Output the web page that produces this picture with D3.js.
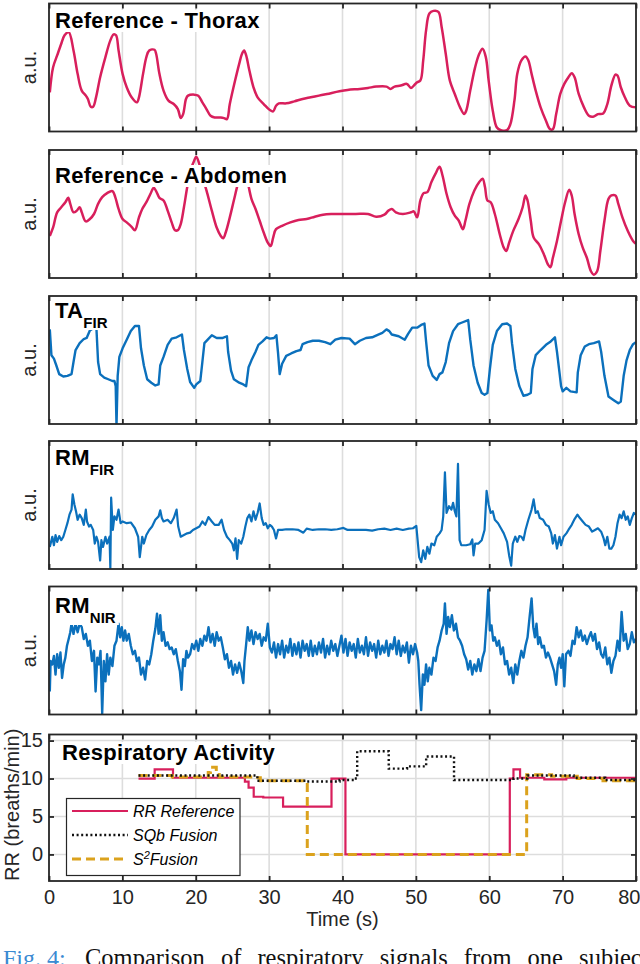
<!DOCTYPE html>
<html><head><meta charset="utf-8">
<script src="https://cdn.jsdelivr.net/npm/d3@7"></script>
<style>body{margin:0;background:#fff}svg{display:block}</style>
</head><body>
<svg id="c" width="640" height="964"></svg>
<script>
// ---------- DATA ----------
const xTicks = [0,10,20,30,40,50,60,70,80];
const gridX = [10,20,30,40,50,60,70];
const rrTicks = [0,5,10,15];
const panelTitles = ["Reference - Thorax","Reference - Abdomen","TA","RM","RM"];
const panelSubs = [null,null,"FIR","FIR","NIR"];
const legendLabels = ["RR Reference","SQb Fusion","S","Fusion"];

// [time (s), a.u.]
const thorax = [[0.11,117],[0.56,192],[1.11,227],[1.67,262],[2.12,287],[2.68,297],[3.34,242],[3.90,172],[4.46,122],[5.02,107],[5.30,97],[5.69,74],[6.02,74],[6.41,102],[6.97,162],[7.69,222],[8.36,272],[8.81,290],[9.14,287],[9.48,242],[10.03,172],[10.59,132],[11.26,102],[11.98,87],[12.26,102],[12.82,172],[13.27,222],[13.66,242],[14.38,244],[14.60,232],[15.05,172],[15.61,122],[16.28,92],[17.00,82],[17.56,67],[17.95,40],[18.28,52],[18.67,97],[18.95,107],[19.79,110],[20.35,107],[20.90,87],[21.46,67],[22.02,47],[22.58,42],[23.41,42],[23.86,40],[24.25,37],[24.64,82],[25.36,152],[25.92,202],[26.31,232],[26.59,242],[26.87,227],[27.31,182],[27.87,132],[28.43,102],[29.26,82],[30.10,64],[30.55,60],[30.94,77],[31.33,84],[32.33,84],[33.44,90],[34.56,97],[35.67,102],[36.79,107],[37.90,112],[39.58,120],[40.69,124],[42.36,127],[43.48,130],[44.59,134],[45.99,134],[46.54,127],[47.10,134],[47.94,137],[48.77,142],[49.33,130],[49.72,137],[50.17,147],[50.61,152],[51.00,212],[51.39,302],[51.84,352],[52.40,360],[53.07,357],[53.51,312],[54.07,232],[54.63,152],[55.30,112],[56.02,72],[56.58,52],[56.86,62],[57.41,122],[58.08,192],[58.64,232],[59.09,247],[59.53,222],[59.92,152],[60.48,62],[61.04,12],[61.59,4],[62.43,4],[62.88,22],[63.43,92],[63.82,172],[64.38,212],[64.94,224],[65.33,212],[65.77,172],[66.33,122],[67.00,72],[67.73,32],[68.28,7],[68.67,7],[69.12,52],[69.68,112],[70.23,142],[70.79,162],[71.24,174],[71.63,162],[72.19,112],[72.91,72],[73.58,47],[74.14,44],[74.81,52],[75.53,54],[76.09,82],[76.64,137],[77.20,170],[77.48,167],[77.93,132],[78.48,102],[79.15,77],[79.99,72]];

const abdomen = [[0.11,125],[0.56,150],[1.11,195],[1.67,210],[2.23,225],[2.62,238],[2.90,220],[3.34,195],[3.79,200],[4.18,210],[4.46,195],[5.02,168],[5.57,175],[6.13,190],[6.69,220],[7.25,240],[7.92,252],[8.64,258],[9.03,240],[9.48,205],[10.03,175],[10.59,165],[11.26,152],[11.71,142],[12.26,180],[12.71,205],[13.27,225],[13.83,250],[14.27,268],[14.60,258],[15.05,238],[15.61,230],[16.17,200],[16.72,165],[17.17,142],[17.56,142],[17.95,160],[18.39,210],[18.84,270],[19.29,320],[19.73,345],[20.07,360],[20.46,340],[20.90,300],[21.46,260],[22.19,200],[22.85,150],[23.41,125],[23.75,118],[24.08,135],[24.64,180],[25.19,230],[25.75,280],[26.20,310],[26.64,320],[27.03,290],[27.59,235],[28.15,205],[28.71,170],[29.26,135],[29.82,105],[30.21,95],[30.55,120],[30.94,145],[31.77,155],[32.89,165],[34.00,172],[35.12,175],[36.23,182],[37.35,188],[38.46,190],[40.13,190],[41.81,190],[43.48,190],[44.59,182],[45.71,188],[46.26,200],[46.71,205],[47.27,195],[48.22,190],[49.33,195],[49.72,198],[50.17,180],[50.61,230],[51.06,252],[51.56,255],[52.12,285],[52.68,310],[53.23,330],[53.62,305],[54.18,250],[54.74,210],[55.30,185],[55.85,170],[56.41,145],[56.75,170],[57.30,220],[57.97,260],[58.64,285],[59.09,295],[59.42,270],[59.75,230],[60.20,225],[60.76,190],[61.43,130],[61.98,90],[62.32,80],[62.71,105],[63.27,140],[63.99,175],[64.55,210],[64.94,245],[65.22,230],[65.66,170],[66.05,120],[66.78,100],[67.45,70],[68.00,40],[68.34,32],[68.67,60],[69.23,110],[69.79,170],[70.34,225],[70.90,262],[71.24,245],[71.63,190],[72.19,130],[72.74,90],[73.30,60],[73.86,20],[74.25,10],[74.70,20],[75.14,80],[75.70,170],[76.25,235],[76.64,245],[77.20,245],[77.59,220],[78.15,180],[78.87,140],[79.60,110],[79.99,102]];

const taFir = [[0.11,275],[0.33,200],[0.67,190],[1.00,170],[1.39,145],[1.95,138],[2.51,140],[3.07,145],[3.34,180],[3.62,215],[4.18,235],[4.74,247],[5.13,250],[5.57,272],[6.13,280],[6.47,275],[6.69,180],[6.97,145],[7.53,135],[8.08,130],[8.64,125],[8.92,125],[9.09,110],[9.20,-5],[9.36,140],[9.59,195],[10.03,220],[10.59,245],[11.15,270],[11.71,285],[12.26,285],[12.54,220],[12.93,170],[13.38,130],[13.94,120],[14.49,112],[14.94,115],[15.16,170],[15.61,195],[16.17,230],[16.72,248],[17.39,252],[18.12,260],[18.39,215],[18.84,160],[19.23,122],[19.79,105],[20.07,115],[20.62,125],[20.90,180],[21.18,235],[21.63,245],[22.19,258],[22.85,250],[23.69,250],[24.25,255],[24.41,210],[24.81,155],[25.20,130],[25.92,120],[26.48,115],[26.87,110],[27.20,165],[27.59,185],[28.15,210],[28.54,230],[29.10,240],[29.65,252],[30.10,248],[30.66,250],[30.99,258],[31.22,205],[31.44,145],[31.77,175],[32.33,198],[33.00,205],[33.72,212],[34.28,215],[34.56,232],[35.23,238],[35.95,242],[36.79,242],[37.63,238],[38.35,232],[39.02,245],[39.86,250],[40.97,248],[41.69,232],[42.36,242],[43.20,250],[44.04,252],[44.87,260],[45.43,265],[45.99,275],[46.38,270],[46.71,260],[47.66,255],[48.49,245],[48.94,262],[49.50,280],[50.17,280],[50.72,288],[51.17,292],[51.39,240],[51.73,170],[52.29,140],[52.84,128],[53.23,145],[53.62,150],[54.07,180],[54.52,235],[55.07,270],[55.74,290],[56.30,295],[57.13,302],[57.41,245],[57.86,170],[58.42,120],[58.97,90],[59.36,85],[59.75,90],[60.09,160],[60.48,230],[61.04,270],[61.76,290],[62.43,292],[62.88,285],[63.10,235],[63.55,160],[64.10,110],[64.66,82],[65.22,85],[65.66,90],[65.89,160],[66.33,200],[67.00,215],[67.73,230],[68.28,238],[68.95,252],[69.23,210],[69.57,150],[69.79,110],[70.01,95],[70.51,105],[71.07,95],[71.91,92],[72.07,150],[72.46,200],[73.02,225],[73.58,232],[74.25,235],[74.97,240],[75.25,210],[75.70,140],[76.25,80],[76.92,70],[77.59,60],[77.93,65],[78.32,140],[78.71,185],[79.15,215],[79.60,232],[79.99,238]];

const rmFir = [[0.11,65],[0.45,95],[0.67,70],[0.89,100],[1.11,80],[1.39,97],[1.67,85],[1.95,95],[2.23,115],[2.51,135],[2.79,160],[3.07,175],[3.23,220],[3.46,190],[3.68,170],[3.90,145],[4.18,160],[4.46,150],[4.74,130],[5.02,175],[5.18,140],[5.46,125],[5.69,130],[6.02,115],[6.24,75],[6.47,95],[6.69,80],[6.97,25],[7.14,85],[7.36,65],[7.69,95],[7.92,75],[8.25,95],[8.36,3],[8.47,210],[8.70,115],[8.92,155],[9.20,145],[9.48,175],[9.76,135],[10.03,140],[10.59,135],[11.15,137],[11.71,120],[12.15,95],[12.37,35],[12.71,95],[12.93,75],[13.27,100],[13.66,115],[14.05,125],[14.49,145],[14.94,155],[15.16,173],[15.38,150],[15.61,140],[16.17,145],[16.61,135],[17.00,150],[17.39,175],[17.61,125],[17.95,95],[18.39,100],[18.84,105],[19.23,107],[19.62,115],[20.07,120],[20.51,125],[20.90,140],[21.29,130],[21.74,153],[22.19,140],[22.58,130],[23.13,130],[23.52,145],[23.86,115],[24.25,95],[24.64,85],[24.97,75],[25.20,55],[25.42,90],[25.64,30],[25.86,85],[26.20,75],[26.48,95],[26.76,125],[27.03,150],[27.31,160],[27.59,140],[27.87,170],[28.15,145],[28.43,165],[28.71,193],[28.99,150],[29.26,130],[29.54,135],[29.82,120],[30.10,130],[30.38,125],[30.66,115],[30.94,90],[31.22,115],[31.77,115],[32.33,117],[33.17,117],[34.00,115],[34.67,107],[35.12,119],[35.95,115],[36.79,117],[37.63,117],[38.46,115],[39.30,117],[40.13,121],[40.69,115],[41.53,115],[42.36,115],[43.20,115],[44.04,113],[44.87,117],[45.71,119],[46.54,115],[47.38,119],[48.22,115],[49.05,119],[49.61,120],[50.06,127],[50.28,75],[50.45,35],[50.72,20],[51.00,55],[51.28,30],[51.56,65],[51.84,45],[52.12,75],[52.51,70],[52.84,95],[53.23,105],[53.51,115],[53.73,155],[53.96,285],[54.18,165],[54.52,185],[54.85,175],[55.07,195],[55.30,170],[55.52,155],[55.74,310],[55.96,85],[56.19,70],[56.86,70],[57.41,73],[57.69,87],[57.86,40],[58.08,75],[58.53,75],[58.97,85],[59.36,115],[59.64,230],[59.92,190],[60.20,165],[60.48,170],[60.76,145],[61.20,135],[61.59,120],[61.98,105],[62.43,80],[62.71,40],[62.99,10],[63.21,75],[63.55,95],[63.82,80],[64.10,97],[64.38,95],[64.66,85],[64.94,115],[65.33,145],[65.77,175],[66.05,205],[66.33,165],[66.61,170],[66.89,150],[67.34,145],[67.73,130],[68.12,125],[68.45,105],[68.67,75],[68.95,100],[69.23,60],[69.57,95],[69.79,70],[70.12,95],[70.51,105],[70.79,115],[71.24,130],[71.63,147],[72.02,160],[72.35,150],[72.74,140],[73.13,130],[73.58,125],[74.02,110],[74.41,115],[74.81,120],[75.25,110],[75.59,90],[75.81,70],[76.09,95],[76.37,60],[76.64,60],[76.92,70],[77.20,95],[77.48,135],[77.76,160],[78.04,150],[78.32,170],[78.60,145],[78.87,155],[79.15,130],[79.43,150],[79.71,165],[79.99,160]];

const rmNir = [[0.11,68],[0.22,158],[0.45,148],[0.67,173],[0.89,118],[1.11,178],[1.34,138],[1.56,183],[1.78,108],[2.01,148],[2.23,168],[2.45,203],[2.68,223],[2.90,243],[3.07,268],[3.34,238],[3.62,268],[3.90,243],[4.18,268],[4.46,258],[4.74,223],[5.02,238],[5.30,203],[5.57,218],[5.85,158],[6.13,188],[6.35,68],[6.58,168],[6.80,148],[7.02,188],[7.25,3],[7.47,158],[7.69,98],[7.92,178],[8.14,118],[8.36,168],[8.64,143],[8.92,203],[9.20,218],[9.48,268],[9.70,228],[9.92,258],[10.14,218],[10.37,248],[10.59,218],[10.87,238],[11.15,203],[11.43,178],[11.71,188],[11.98,158],[12.26,168],[12.54,118],[12.82,138],[13.10,103],[13.38,158],[13.66,148],[13.94,178],[14.21,218],[14.49,253],[14.72,298],[14.94,238],[15.16,293],[15.38,218],[15.61,243],[15.89,203],[16.17,213],[16.44,193],[16.72,198],[17.00,178],[17.28,193],[17.56,158],[17.84,128],[18.06,73],[18.28,163],[18.51,143],[18.73,188],[18.95,168],[19.23,178],[19.51,208],[19.79,193],[20.07,218],[20.35,188],[20.62,223],[20.90,203],[21.18,233],[21.46,218],[21.74,258],[22.02,213],[22.30,238],[22.58,203],[22.85,243],[23.13,218],[23.41,228],[23.69,198],[23.97,163],[24.25,178],[24.53,138],[24.81,158],[25.08,118],[25.36,148],[25.64,123],[25.92,153],[26.20,128],[26.48,93],[26.64,158],[26.87,208],[27.09,258],[27.31,218],[27.59,248],[27.87,208],[28.15,243],[28.43,223],[28.71,238],[28.99,203],[29.26,228],[29.54,218],[29.82,268],[30.10,198],[30.38,183],[30.66,213],[30.94,168],[31.22,208],[31.49,178],[31.77,218],[32.05,168],[32.33,203],[32.61,183],[32.89,223],[33.17,173],[33.44,208],[33.72,178],[34.00,213],[34.28,168],[34.56,218],[34.84,188],[35.12,208],[35.40,173],[35.67,218],[35.95,173],[36.23,203],[36.51,178],[36.79,213],[37.07,183],[37.35,223],[37.63,168],[37.90,203],[38.18,178],[38.46,218],[38.74,188],[39.02,208],[39.30,173],[39.58,203],[39.86,233],[40.13,183],[40.41,223],[40.69,173],[40.97,213],[41.25,188],[41.53,208],[41.81,168],[42.09,223],[42.36,183],[42.64,203],[42.92,178],[43.20,228],[43.48,173],[43.76,213],[44.04,188],[44.31,208],[44.59,168],[44.87,218],[45.15,178],[45.43,203],[45.71,183],[45.99,218],[46.27,173],[46.54,208],[46.82,193],[47.10,228],[47.38,178],[47.66,218],[47.94,173],[48.22,203],[48.49,183],[48.77,213],[49.05,153],[49.33,203],[49.61,178],[49.89,208],[50.17,183],[50.33,158],[50.50,88],[50.72,13],[50.95,118],[51.17,88],[51.39,148],[51.62,98],[51.84,138],[52.12,118],[52.40,168],[52.68,158],[52.96,198],[53.23,218],[53.51,248],[53.79,268],[53.96,328],[54.18,238],[54.40,288],[54.63,258],[54.91,293],[55.18,248],[55.46,268],[55.74,228],[56.02,218],[56.30,203],[56.58,178],[56.86,163],[57.13,133],[57.41,158],[57.69,118],[57.97,148],[58.25,128],[58.53,163],[58.81,128],[59.09,168],[59.36,188],[59.64,278],[59.87,368],[60.09,248],[60.31,263],[60.54,218],[60.76,228],[61.04,203],[61.32,218],[61.59,178],[61.87,198],[62.15,148],[62.43,158],[62.71,118],[62.99,138],[63.27,93],[63.55,148],[63.82,118],[64.10,158],[64.38,188],[64.66,168],[64.94,203],[65.22,228],[65.50,288],[65.77,343],[66.00,258],[66.22,228],[66.44,268],[66.67,208],[66.89,228],[67.17,198],[67.45,203],[67.73,168],[68.00,183],[68.28,168],[68.56,148],[68.84,128],[69.12,88],[69.34,148],[69.57,168],[69.79,138],[70.01,178],[70.23,83],[70.46,178],[70.79,188],[71.07,173],[71.35,218],[71.63,208],[71.91,258],[72.19,228],[72.46,248],[72.74,218],[73.02,233],[73.30,208],[73.58,228],[73.86,243],[74.14,218],[74.41,238],[74.69,193],[74.97,213],[75.25,178],[75.53,168],[75.81,198],[76.09,148],[76.37,168],[76.64,123],[76.92,158],[77.20,173],[77.48,218],[77.76,188],[78.04,303],[78.32,218],[78.60,238],[78.87,193],[79.15,208],[79.43,243],[79.71,213],[79.99,223]];

// Respiratory rate (breaths/min), step series [time, value]
const rrReference = [[12.2,10.0],[14.4,11.2],[16.9,10.1],[26.7,9.6],[27.2,8.8],[27.9,7.6],[29.2,7.5],[31.9,6.3],[38.5,10.0],[40.4,0.0],[62.8,10.0],[63.3,11.2],[64.2,10.1],[67.5,9.9],[70.5,10.1],[80.0,10.1]];
const sqbFusion = [[12.2,10.4],[28.4,9.7],[35.0,9.6],[39.6,9.8],[41.6,10.0],[42.0,13.6],[46.3,11.3],[48.8,11.6],[51.4,12.9],[55.2,9.8],[63.3,10.0],[65.2,10.4],[71.5,10.1],[75.8,9.8],[80.0,9.8]];
const s2Fusion = [[12.2,10.4],[16.8,10.2],[21.7,10.8],[22.0,11.5],[22.8,10.8],[23.2,10.2],[27.9,10.1],[28.8,9.7],[35.2,0.0],[65.1,10.5],[68.5,10.3],[72.0,10.0],[75.5,9.7],[80.0,9.7]];

// ---------- DRAW ----------
const PINK="#D81F5C", BLUE="#0B70BC", GOLD="#DBA21D", INK="#262626", GRID="#dddddd";
const FONT="'Liberation Sans', Arial, Helvetica, sans-serif";
const NARROW="'Liberation Sans Narrow','Arial Narrow','Liberation Sans',Arial,sans-serif";
const svg=d3.select("#c");
const L=49, R=636, W=R-L, PH=128;
const x=d3.scaleLinear().domain([0,80]).range([L,R]);

const panels=[
 {data:thorax, max:382, top:3.5, color:PINK, ty:28, smooth:true, sw:2.5},
 {data:abdomen, max:380, top:150, color:PINK, ty:183, smooth:true, sw:2.5},
 {data:taFir, max:372, top:296, color:BLUE, ty:318, smooth:false, sw:2.4},
 {data:rmFir, max:377, top:441, color:BLUE, ty:465, smooth:false, sw:2.2},
 {data:rmNir, max:378, top:586.5, color:BLUE, ty:613, smooth:false, sw:2.4}
];

function addTitle(g, px, py, main, sub){
  const t=g.append("text").attr("x",px).attr("y",py).attr("font-family",FONT)
    .attr("font-weight","bold").attr("font-size",22).attr("letter-spacing",0.3).attr("fill","#000").text(main);
  if(sub) t.append("tspan").attr("font-size",15).attr("letter-spacing",0).attr("dy",10).text(sub);
  const bb=t.node().getBBox();
  g.insert("rect",()=>t.node()).attr("x",bb.x-3).attr("y",bb.y+2)
    .attr("width",bb.width+6).attr("height",bb.height-3).attr("fill","#fff");
}

panels.forEach((p,i)=>{
  const y=d3.scaleLinear().domain([0,p.max]).range([p.top+PH,p.top]);
  const g=svg.append("g");
  const cid="clip"+i;
  svg.append("clipPath").attr("id",cid).append("rect")
    .attr("x",L).attr("y",p.top).attr("width",W).attr("height",PH);
  g.selectAll("line.grid").data(gridX).join("line").attr("class","grid")
    .attr("x1",d=>x(d)).attr("x2",d=>x(d)).attr("y1",p.top).attr("y2",p.top+PH)
    .attr("stroke",GRID).attr("stroke-width",1.6);
  const line=d3.line().x(d=>x(d[0])).y(d=>y(d[1]))
    .curve(p.smooth?d3.curveCatmullRom.alpha(0.5):d3.curveLinear);
  g.append("path").datum(p.data).attr("clip-path",`url(#${cid})`)
    .attr("fill","none").attr("stroke",p.color).attr("stroke-width",p.sw)
    .attr("stroke-linejoin","round").attr("d",line);
  addTitle(g,55,p.ty,panelTitles[i],panelSubs[i]);
  const ab=g.append("g").attr("transform",`translate(0,${p.top+PH})`)
    .call(d3.axisBottom(x).tickValues(xTicks).tickSize(-5).tickFormat(""));
  const at=g.append("g").attr("transform",`translate(0,${p.top})`)
    .call(d3.axisTop(x).tickValues(xTicks).tickSize(-5).tickFormat(""));
  [ab,at].forEach(a=>{a.select(".domain").remove();a.selectAll("line").attr("stroke",INK).attr("stroke-width",1.8);});
  g.append("rect").attr("x",L).attr("y",p.top).attr("width",W).attr("height",PH)
    .attr("fill","none").attr("stroke",INK).attr("stroke-width",1.8);
  g.append("text").attr("transform",`translate(36,${p.top+PH/2}) rotate(-90)`)
    .attr("text-anchor","middle").attr("font-family",FONT).attr("font-size",20)
    .attr("fill","#262626").text("a.u.");
});

// ---------- Bottom RR panel ----------
const BT=734.5, BB=881;
const yr=d3.scaleLinear().domain([-3.5,15.8]).range([BB,BT]);
const gb=svg.append("g");
svg.append("clipPath").attr("id","clipRR").append("rect").attr("x",L).attr("y",BT).attr("width",W).attr("height",BB-BT);
gb.selectAll("line.gx").data(gridX).join("line").attr("class","gx")
  .attr("x1",d=>x(d)).attr("x2",d=>x(d)).attr("y1",BT).attr("y2",BB)
  .attr("stroke",GRID).attr("stroke-width",1.6);
gb.selectAll("line.gy").data(rrTicks).join("line").attr("class","gy")
  .attr("x1",L).attr("x2",R).attr("y1",d=>yr(d)).attr("y2",d=>yr(d))
  .attr("stroke",GRID).attr("stroke-width",1.6);
const stepLine=d3.line().x(d=>x(d[0])).y(d=>yr(d[1])).curve(d3.curveStepAfter);
const seriesStyle=[
  {data:rrReference, color:PINK, w:2.2, dash:null},
  {data:s2Fusion, color:GOLD, w:3, dash:"9,5"},
  {data:sqbFusion, color:"#111", w:2.4, dash:"2,2.6"}
];
seriesStyle.forEach(s=>{
  gb.append("path").datum(s.data).attr("clip-path","url(#clipRR)").attr("fill","none")
    .attr("stroke",s.color).attr("stroke-width",s.w).attr("stroke-dasharray",s.dash)
    .attr("d",stepLine);
});
addTitle(gb,62,760,"Respiratory Activity",null);
const xb=gb.append("g").attr("transform",`translate(0,${BB})`)
  .call(d3.axisBottom(x).tickValues(xTicks).tickSize(-5).tickPadding(9));
const xt=gb.append("g").attr("transform",`translate(0,${BT})`)
  .call(d3.axisTop(x).tickValues(xTicks).tickSize(-5).tickFormat(""));
const yl=gb.append("g").attr("transform",`translate(${L},0)`)
  .call(d3.axisLeft(yr).tickValues(rrTicks).tickSize(-5).tickPadding(6));
const yrr=gb.append("g").attr("transform",`translate(${R},0)`)
  .call(d3.axisRight(yr).tickValues(rrTicks).tickSize(-5).tickFormat(""));
[xb,xt,yl,yrr].forEach(a=>{
  a.select(".domain").remove();
  a.selectAll("line").attr("stroke",INK).attr("stroke-width",1.8);
  a.selectAll("text").attr("font-family",NARROW).attr("font-size",20).attr("fill","#262626");
});
xb.selectAll(".tick text").filter(d=>d===80).attr("text-anchor","end").attr("dx",4);
gb.append("text").attr("x",(L+R)/2).attr("y",926).attr("text-anchor","middle")
  .attr("font-family",FONT).attr("font-size",20).attr("fill","#262626").text("Time (s)");
gb.append("text").attr("transform",`translate(19,${(BT+BB)/2-3}) rotate(-90)`)
  .attr("text-anchor","middle").attr("font-family",FONT).attr("font-size",20)
  .attr("fill","#262626").text("RR (breaths/min)");
gb.append("rect").attr("x",L).attr("y",BT).attr("width",W).attr("height",BB-BT)
  .attr("fill","none").attr("stroke",INK).attr("stroke-width",1.8);

// legend
const lg=gb.append("g");
lg.append("rect").attr("x",66.5).attr("y",798.5).attr("width",173.5).attr("height",77)
  .attr("fill","#fff").attr("stroke",INK).attr("stroke-width",1.2);
const legItems=[
  {y:811, style:seriesStyle[0]},
  {y:835, style:seriesStyle[2]},
  {y:859, style:seriesStyle[1]}
];
legItems.forEach((it,k)=>{
  lg.append("line").attr("x1",72).attr("x2",128).attr("y1",it.y).attr("y2",it.y)
    .attr("stroke",it.style.color).attr("stroke-width",it.style.w).attr("stroke-dasharray",it.style.dash);
  const t=lg.append("text").attr("x",133).attr("y",it.y+6).attr("font-family",FONT)
    .attr("font-style","italic").attr("font-size",16).attr("fill","#000");
  if(k<2) t.text(legendLabels[k]);
  else {
    t.append("tspan").text(legendLabels[2]);
    t.append("tspan").attr("font-size",11).attr("dy",-6).text("2");
    t.append("tspan").attr("dy",6).text(legendLabels[3]);
  }
});

// caption (cut off by page edge, as in the figure)
const SERIF="'Liberation Serif','Times New Roman',serif";
svg.append("text").attr("x",3).attr("y",966).attr("font-family",SERIF)
  .attr("font-size",24).attr("fill","#3a8ad2").text("Fig. 4:");
svg.append("text").attr("x",85).attr("y",966).attr("font-family",SERIF)
  .attr("font-size",24.5).attr("word-spacing",10).attr("fill","#111")
  .text("Comparison of respiratory signals from one subject");
</script>
</body></html>
